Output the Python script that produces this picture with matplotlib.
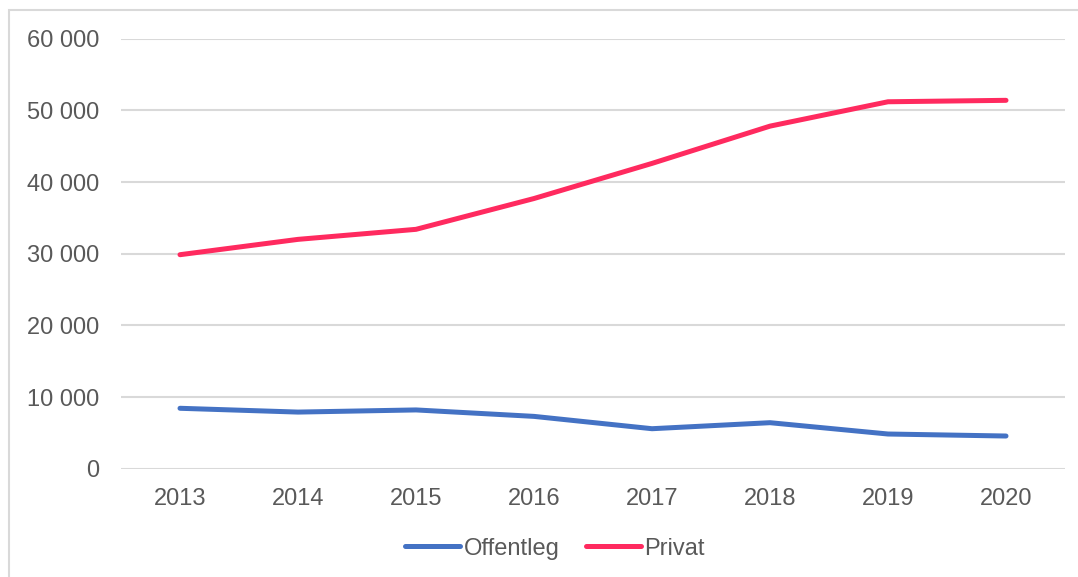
import numpy as np
import matplotlib
matplotlib.use("Agg")
import matplotlib.pyplot as plt
import matplotlib.patches as patch
from matplotlib.ticker import FuncFormatter

# data
years = ['2013', '2014', '2015', '2016', '2017', '2018', '2019', '2020']
offentleg = [8430, 7900, 8200, 7300, 5580, 6420, 4840, 4560]
privat = [29860, 32000, 33400, 37700, 42600, 47800, 51200, 51400]
yticks = [0, 10000, 20000, 30000, 40000, 50000, 60000]

blue = '#4472C4'
pink = '#FF2A5F'
txt = '#595959'
grid = '#D9D9D9'

plt.rcParams['font.family'] = ['Liberation Sans', 'DejaVu Sans']

W, H = 1078, 577
fig = plt.figure(figsize=(W/100.0, H/100.0), dpi=100)

# chart frame (only left/top visible in the reference)
fig.patches.append(patch.Rectangle((9.0/W, -0.1), 1.2, 1.1 - 10.0/H, transform=fig.transFigure,
                                   fill=False, edgecolor=grid, linewidth=1.5))

ax = fig.add_axes([121.0/W, 1-468.7/H, (1065.0-121.0)/W, (468.7-38.7)/H])

x = np.arange(len(years))
ax.plot(x, offentleg, color=blue, lw=3.6, solid_capstyle='round', solid_joinstyle='round', label='Offentleg')
ax.plot(x, privat, color=pink, lw=3.6, solid_capstyle='round', solid_joinstyle='round', label='Privat')

ax.set_xlim(-0.5, len(years)-0.5)
ax.set_ylim(0, 60000)
ax.set_xticks(x)
ax.set_xticklabels(years)
ax.set_yticks(yticks)
ax.yaxis.set_major_formatter(FuncFormatter(lambda v, p: '{:,.0f}'.format(v).replace(',', ' ')))

ax.grid(axis='y', color=grid, linewidth=1.5)
ax.set_axisbelow(True)
for s in ax.spines.values():
    s.set_visible(False)
ax.tick_params(axis='both', length=0, labelsize=17, labelcolor=txt)
ax.tick_params(axis='y', pad=15.5)
ax.tick_params(axis='x', pad=14)

leg = fig.legend(loc='center', bbox_to_anchor=(555.0/W, 1-548.7/H), ncol=2, frameon=False,
                 fontsize=17, handlelength=2.33, handletextpad=0.15, columnspacing=1.1)
for t in leg.get_texts():
    t.set_color(txt)

fig.savefig('out.png', dpi=100)
